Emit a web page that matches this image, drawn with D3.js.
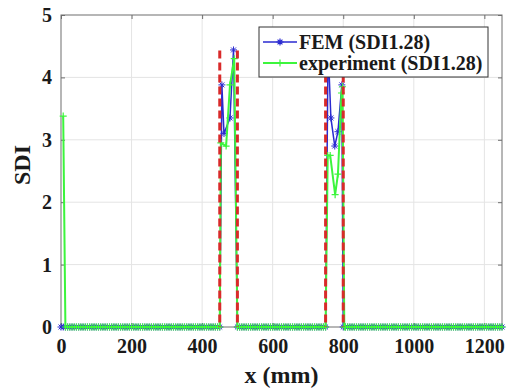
<!DOCTYPE html>
<html>
<head>
<meta charset="utf-8">
<script src="https://cdn.jsdelivr.net/npm/d3@7/dist/d3.min.js"></script>
<style>
  body { margin: 0; background: #fff; }
  svg text { font-family: "Liberation Serif", Tinos, "Times New Roman", Times, "DejaVu Serif", serif; font-weight: bold; }
</style>
</head>
<body>
<svg id="chart" width="510" height="389"></svg>
<script>
// axis ticks
var xTicks = [0, 200, 400, 600, 800, 1000, 1200];
var yTicks = [0, 1, 2, 3, 4, 5];

// sampling step of the measurement grid (mm), used only for the flat zero parts
var sampleStep = 6.25;

// FEM (SDI1.28): flat zero runs + read peak points [x, SDI]
var femZeroRuns = [[0, 450], [500, 750], [800, 1250]];
var femPeaks = [
    [[450, 0], [456, 3.88], [462, 3.10], [479, 3.35], [489, 4.44], [500, 0]],
    [[750, 0], [757, 4.50], [765, 3.35], [776, 2.90], [785, 3.13], [796, 3.88], [800, 0]]
];

// experiment (SDI1.28)
var expStart = [[6.25, 3.38]];
var expZeroRuns = [[12.5, 450], [500, 750], [806.25, 1250]];
var expPeaks = [
    [[450, 0], [453, 2.95], [468, 2.90], [479, 3.88], [491, 4.30], [500, 0]],
    [[750, 0], [756, 2.75], [763, 2.75], [777, 2.12], [785, 2.45], [795, 3.75], [798, 3.85], [803, 0]]
];

// dashed slot edges
var slotEdges = [450, 500, 750, 800];
var slotHeight = 4.43;

var legendNames = ["FEM (SDI1.28)", "experiment (SDI1.28)"];
var femColor = "#2a2ad0", expColor = "#3cf53c", slotColor = "#d92a2a";
var serif = '"Liberation Serif", Tinos, "Times New Roman", Times, "DejaVu Serif", serif';

var buildSeries = function (start, runs, peaks) {
    var pts = start.slice();
    runs.forEach(function (r) {
        d3.range(r[0], r[1] + 0.001, sampleStep).forEach(function (x) { pts.push([x, 0]); });
    });
    peaks.forEach(function (p) { pts = pts.concat(p); });
    pts.sort(function (a, b) { return a[0] - b[0]; });
    // drop duplicates
    return pts.filter(function (d, i) { return i == 0 || !(d[0] == pts[i - 1][0] && d[1] == pts[i - 1][1]); });
};

var femData = buildSeries([], femZeroRuns, femPeaks);
var expData = buildSeries(expStart, expZeroRuns, expPeaks);

var svg = d3.select("#chart"),
    margin = {top: 15, right: 8, bottom: 62, left: 61},
    width = 510 - margin.left - margin.right,
    height = 389 - margin.top - margin.bottom;

var x = d3.scaleLinear().domain([0, 1250]).range([margin.left, margin.left + width]);
var y = d3.scaleLinear().domain([0, 5]).range([margin.top + height, margin.top]);

// grid
svg.append("g").selectAll("line")
    .data(xTicks.filter(function (d) { return d > 0; }))
    .enter().append("line")
    .attr("x1", function (d) { return x(d); }).attr("x2", function (d) { return x(d); })
    .attr("y1", y(0)).attr("y2", y(5))
    .attr("stroke", "#e4e4e4").attr("stroke-width", 1);
svg.append("g").selectAll("line")
    .data(yTicks.filter(function (d) { return d > 0 && d < 5; }))
    .enter().append("line")
    .attr("y1", function (d) { return y(d); }).attr("y2", function (d) { return y(d); })
    .attr("x1", x(0)).attr("x2", x(1250))
    .attr("stroke", "#e4e4e4").attr("stroke-width", 1);

// box
svg.append("rect")
    .attr("x", x(0)).attr("y", y(5))
    .attr("width", width).attr("height", height)
    .attr("fill", "none").attr("stroke", "#6e6e6e").attr("stroke-width", 1);

// axes with inward ticks, matlab style
var fmt = d3.format("d");
var axB = svg.append("g").attr("transform", "translate(0," + y(0) + ")")
    .call(d3.axisBottom(x).tickValues(xTicks).tickFormat(fmt).tickSize(-4).tickPadding(10));
var axT = svg.append("g").attr("transform", "translate(0," + y(5) + ")")
    .call(d3.axisTop(x).tickValues(xTicks).tickSize(-4).tickFormat(""));
var axL = svg.append("g").attr("transform", "translate(" + x(0) + ",0)")
    .call(d3.axisLeft(y).tickValues(yTicks).tickFormat(fmt).tickSize(-4).tickPadding(9));
var axR = svg.append("g").attr("transform", "translate(" + x(1250) + ",0)")
    .call(d3.axisRight(y).tickValues(yTicks).tickSize(-4).tickFormat(""));

[axB, axT, axL, axR].forEach(function (a) {
    a.attr("font-family", serif).attr("font-size", 20).attr("font-weight", "bold");
    a.select(".domain").remove();
    a.selectAll(".tick line").attr("stroke", "#6e6e6e");
    a.selectAll(".tick text").attr("fill", "#1a1a1a");
});
axB.selectAll(".tick text").attr("dy", "0.78em");

// lines
var line = d3.line()
    .x(function (d) { return x(d[0]); })
    .y(function (d) { return y(d[1]); });

var starPath = function (s) {
    var a = s * 0.7;
    return "M" + (-s) + ",0L" + s + ",0M0," + (-s) + "L0," + s +
        "M" + (-a) + "," + (-a) + "L" + a + "," + a + "M" + (-a) + "," + a + "L" + a + "," + (-a);
};
var plusPath = function (s) {
    return "M" + (-s) + ",0L" + s + ",0M0," + (-s) + "L0," + s;
};

var plotG = svg.append("g");

plotG.append("path").datum(femData)
    .attr("fill", "none").attr("stroke", femColor).attr("stroke-width", 1.5)
    .attr("d", line);
plotG.append("g").selectAll("path").data(femData).enter().append("path")
    .attr("transform", function (d) { return "translate(" + x(d[0]) + "," + y(d[1]) + ")"; })
    .attr("d", starPath(3.5))
    .attr("stroke", femColor).attr("stroke-width", 1).attr("fill", "none");

plotG.append("path").datum(expData)
    .attr("fill", "none").attr("stroke", expColor).attr("stroke-width", 2)
    .attr("d", line);
plotG.append("g").selectAll("path").data(expData).enter().append("path")
    .attr("transform", function (d) { return "translate(" + x(d[0]) + "," + y(d[1]) + ")"; })
    .attr("d", plusPath(3.5))
    .attr("stroke", expColor).attr("stroke-width", 1.2).attr("fill", "none");

// red dashed slot edges
plotG.append("g").selectAll("line").data(slotEdges).enter().append("line")
    .attr("x1", function (d) { return x(d); }).attr("x2", function (d) { return x(d); })
    .attr("y1", y(slotHeight)).attr("y2", y(0))
    .attr("stroke", slotColor).attr("stroke-width", 3)
    .attr("stroke-dasharray", "8,4");

// legend
var lg = svg.append("g").attr("font-family", serif).attr("font-weight", "bold");
lg.append("rect")
    .attr("x", 259).attr("y", 27).attr("width", 229).attr("height", 50)
    .attr("fill", "#fff").attr("stroke", "#333").attr("stroke-width", 1);
[femColor, expColor].forEach(function (c, i) {
    var ly = 42 + i * 21;
    lg.append("line").attr("x1", 263).attr("x2", 297).attr("y1", ly).attr("y2", ly)
        .attr("stroke", c).attr("stroke-width", i == 0 ? 1.5 : 2);
    lg.append("path").attr("transform", "translate(280," + ly + ")")
        .attr("d", i == 0 ? starPath(3.5) : plusPath(3.5))
        .attr("stroke", c).attr("stroke-width", 1.2).attr("fill", "none");
    lg.append("text").attr("x", 299).attr("y", ly + 7)
        .attr("font-size", 20).attr("fill", "#1a1a1a")
        .text(legendNames[i]);
});

// axis titles
svg.append("text")
    .attr("x", margin.left + width / 2).attr("y", 383)
    .attr("text-anchor", "middle")
    .attr("font-family", serif).attr("font-weight", "bold")
    .attr("font-size", 24).attr("fill", "#1a1a1a")
    .text("x (mm)");

svg.append("text")
    .attr("transform", "translate(30,165) rotate(-90)")
    .attr("text-anchor", "middle")
    .attr("font-family", serif).attr("font-weight", "bold")
    .attr("font-size", 24).attr("fill", "#1a1a1a")
    .text("SDI");
</script>
</body>
</html>
